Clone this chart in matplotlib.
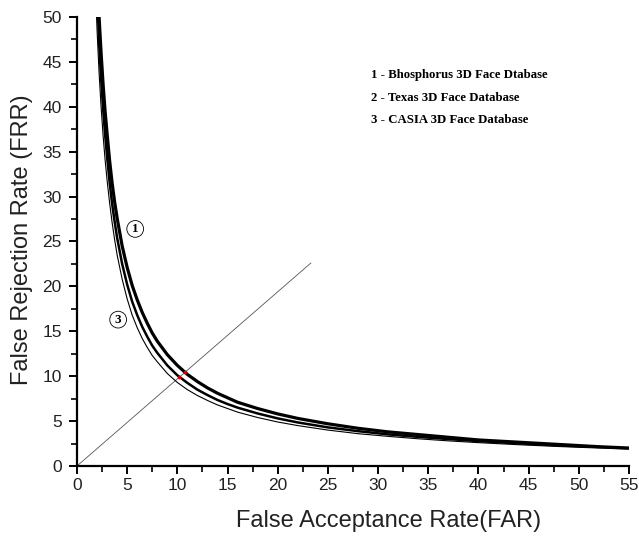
import matplotlib
matplotlib.use("Agg")
import matplotlib.pyplot as plt
from matplotlib.ticker import MultipleLocator

# values (FAR, FRR in %)
far1 = [2.2, 2.4, 2.6, 2.8, 3.0, 3.25, 3.5, 3.75, 4, 4.5, 5, 5.5, 6, 6.5, 7, 7.5, 8, 9, 10, 11,
        12, 13, 14, 15, 16, 18, 20, 22, 25, 28, 31, 34, 37, 40, 44, 48, 52, 55]
frr1 = [50, 46, 42.5, 39.5, 37, 34, 31.5, 29.4, 27.6, 24.5, 22.1, 20.1, 18.5, 17.1, 15.9, 14.8, 13.9,
        12.4, 11.2, 10.2, 9.4, 8.7, 8.1, 7.6, 7.1, 6.4, 5.8, 5.3, 4.7, 4.2, 3.8, 3.5, 3.2, 2.9, 2.65,
        2.4, 2.15, 2.0]
far2 = [2.1, 2.2, 2.4, 2.6, 2.8, 3.0, 3.25, 3.5, 3.75, 4, 4.5, 5, 5.5, 6, 6.5, 7, 7.5, 8, 9, 10, 11,
        12, 13, 14, 15, 16, 18, 20, 22, 25, 28, 31, 34, 37, 40, 44, 48, 51]
frr2 = [50, 47.2, 43.2, 39.8, 36.9, 34.4, 31.6, 29.2, 27.2, 25.4, 22.5, 20.2, 18.3, 16.8, 15.5, 14.4,
        13.4, 12.6, 11.2, 10.1, 9.25, 8.5, 7.9, 7.35, 6.9, 6.5, 5.85, 5.3, 4.85, 4.3, 3.88, 3.52, 3.24,
        3.0, 2.77, 2.52, 2.3, 2.15]
far3 = [1.95, 2.0, 2.2, 2.4, 2.6, 2.8, 3.0, 3.25, 3.5, 3.75, 4, 4.5, 5, 5.5, 6, 6.5, 7, 7.5, 8, 9, 10,
        11, 12, 13, 14, 15, 16, 18, 20, 22, 25, 28, 31, 34, 37, 40, 44, 48, 52, 55]
frr3 = [50, 48.5, 43.8, 40.0, 36.8, 34.1, 31.8, 29.3, 27.1, 25.2, 23.5, 20.8, 18.6, 16.8, 15.4, 14.2,
        13.2, 12.3, 11.6, 10.3, 9.3, 8.5, 7.85, 7.3, 6.8, 6.4, 6.0, 5.4, 4.9, 4.5, 4.0, 3.6, 3.3,
        3.03, 2.8, 2.6, 2.37, 2.17, 2.0, 1.88]
eer_x = [10.75, 10.2]
eer_y = [10.45, 9.9]
diag_x = [0, 23.3]
diag_y = [0, 22.6]
legend_lines = ["1 - Bhosphorus 3D Face Dtabase",
                "2 - Texas 3D Face Database",
                "3 - CASIA 3D Face Database"]

fig = plt.figure(figsize=(6.39, 5.36), dpi=100)
ax = fig.add_axes([0.1205, 0.1306, 0.8638, 0.8377])

ax.plot(diag_x, diag_y, color="#555555", lw=0.6)
ax.plot(far1, frr1, color="black", lw=2.3, solid_capstyle="butt")
ax.plot(far2, frr2, color="black", lw=1.8, solid_capstyle="butt")
ax.plot(far3, frr3, color="black", lw=0.8, solid_capstyle="butt")
ax.scatter(eer_x, eer_y, s=7, color="#cc0000", zorder=5, linewidths=0)

circ = dict(boxstyle="circle,pad=0.18", fc="white", ec="black", lw=0.6)
ax.text(5.8, 26.4, "1", fontsize=9.5, fontweight="bold", family="Liberation Serif",
        ha="center", va="center", bbox=circ)
ax.text(4.1, 16.3, "3", fontsize=9.5, fontweight="bold", family="Liberation Serif",
        ha="center", va="center", bbox=circ)

for i, s in enumerate(legend_lines):
    ax.text(29.3, 43.5 - 2.5 * i, s, fontsize=9.2, fontweight="bold",
            family="Liberation Serif", va="center", ha="left")

ax.set_xlim(0, 55)
ax.set_ylim(0, 50)
ax.xaxis.set_major_locator(MultipleLocator(5))
ax.xaxis.set_minor_locator(MultipleLocator(2.5))
ax.yaxis.set_major_locator(MultipleLocator(5))
ax.yaxis.set_minor_locator(MultipleLocator(2.5))
for side in ["top", "right"]:
    ax.spines[side].set_visible(False)
for side in ["left", "bottom"]:
    ax.spines[side].set_linewidth(1.6)
ax.tick_params(which="major", direction="out", length=6, width=1.4,
               labelsize=12.5, labelcolor="#222222")
ax.tick_params(axis="y", which="major", pad=5)
ax.tick_params(axis="x", which="major", pad=3)
ax.tick_params(which="minor", direction="out", length=4, width=1.2)
for lab in ax.get_xticklabels() + ax.get_yticklabels():
    lab.set_family("Liberation Sans")

ax.set_xlabel("False Acceptance Rate(FAR)", fontsize=17, family="Liberation Sans",
              color="#222222")
ax.set_ylabel("False Rejection Rate (FRR)", fontsize=17, family="Liberation Sans",
              color="#222222")
ax.xaxis.set_label_coords(0.565, -0.098)
ax.yaxis.set_label_coords(-0.08, 0.503)

fig.savefig("out.png", dpi=100)
